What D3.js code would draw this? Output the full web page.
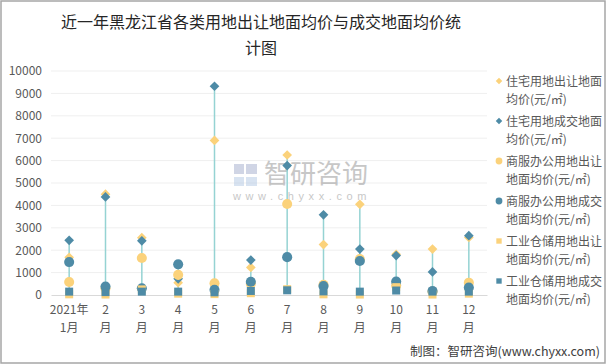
<!DOCTYPE html>
<html><head><meta charset="utf-8">
<script src="https://cdn.jsdelivr.net/npm/d3@7"></script>
<style>body{margin:0;background:#fff}svg{display:block}</style>
</head><body>
<svg id="c" width="606" height="364"></svg>
<script>
const months = ["2021年|1月","2|月","3|月","4|月","5|月","6|月","7|月","8|月","9|月","10|月","11|月","12|月"];
const resSell = [1680, 4500, 2560, 550, 6900, 1230, 6250, 2250, 4050, 1820, 2050, 2570];
const resDeal = [2440, 4380, 2420, 720, 9320, 1560, 5780, 3580, 2050, 1760, 1030, 2650];
const comSell = [580, 300, 1650, 900, 520, 500, 4060, 450, 1600, 420, 150, 550];
const comDeal = [1470, 380, 300, 1370, 230, 590, 1690, 400, 1520, 600, 180, 330];
const indSell = [30, 20, 250, 60, 40, 80, 260, 30, 20, 350, 20, 60];
const indDeal = [150, 130, 150, 150, 120, 180, 210, 160, 150, 200, 150, 150];
const yTicks = [0,1000,2000,3000,4000,5000,6000,7000,8000,9000,10000];
const seriesNames = ["住宅用地出让地面|均价(元/㎡)","住宅用地成交地面|均价(元/㎡)","商服办公用地出让|地面均价(元/㎡)","商服办公用地成交|地面均价(元/㎡)","工业仓储用地出让|地面均价(元/㎡)","工业仓储用地成交|地面均价(元/㎡)"];

const YEL = "#FBD27B", TEAL = "#4E8BA6";
const series = [
  {v: resSell, c: YEL, s: d3.symbolDiamond2, sz: 60},
  {v: resDeal, c: TEAL, s: d3.symbolDiamond2, sz: 60},
  {v: comSell, c: YEL, s: d3.symbolCircle, sz: 80},
  {v: comDeal, c: TEAL, s: d3.symbolCircle, sz: 80},
  {v: indSell, c: YEL, s: d3.symbolSquare, sz: 64},
  {v: indDeal, c: TEAL, s: d3.symbolSquare, sz: 64}
];

const svg = d3.select("#c");
const F = "'Noto Sans CJK SC', 'Noto Sans', sans-serif";
svg.append("rect").attr("x",1).attr("y",1).attr("width",604).attr("height",362)
  .attr("fill","#fff").attr("stroke","#a6a6a6").attr("stroke-width",1.5);

// title
const title = svg.append("text").attr("text-anchor","middle").attr("font-family",F)
  .attr("font-size",16).attr("fill","#262626");
title.append("tspan").attr("x",261).attr("y",28).text("近一年黑龙江省各类用地出让地面均价与成交地面均价统");
title.append("tspan").attr("x",261).attr("y",54).text("计图");

const x = d3.scaleBand().domain(months).range([51,487]).padding(0);
const y = d3.scaleLinear().domain([0,10000]).range([295,71]);
const cx = d => x(d) + x.bandwidth()/2;

// gridlines
svg.append("g").selectAll("line").data(yTicks.filter(t=>t>0)).join("line")
  .attr("x1",51).attr("x2",487).attr("y1",d=>y(d)).attr("y2",d=>y(d))
  .attr("stroke","#efefef").attr("stroke-width",1);

// y axis
const ya = svg.append("g").attr("transform","translate(51,0)")
  .call(d3.axisLeft(y).tickValues(yTicks).tickSize(0).tickPadding(9).tickFormat(d3.format("d")));
ya.select(".domain").remove();
ya.selectAll("text").attr("font-family",F).attr("font-size",12).attr("fill","#595959");

// x axis
const xa = svg.append("g").attr("transform","translate(0,295)")
  .call(d3.axisBottom(x).tickSize(0).tickFormat(""));
xa.select(".domain").attr("stroke","#d9d9d9").attr("stroke-width",1.2);
xa.selectAll(".tick").each(function(d){
  const parts = d.split("|");
  const t = d3.select(this).append("text").attr("fill","#595959").attr("font-family",F)
    .attr("font-size",12).attr("text-anchor","middle");
  t.append("tspan").attr("x",0).attr("y",19).text(parts[0]);
  t.append("tspan").attr("x",0).attr("y",37).text(parts[1]);
});

// watermark
const wm = svg.append("g").attr("opacity",0.55);
wm.append("rect").attr("x",234).attr("y",164).attr("width",10).attr("height",10).attr("fill","#aab4d0");
wm.append("rect").attr("x",246).attr("y",164).attr("width",11).attr("height",10).attr("fill","#aab4d0");
wm.append("rect").attr("x",234).attr("y",177).attr("width",10).attr("height",9).attr("fill","#b9cde6");
wm.append("rect").attr("x",246).attr("y",177).attr("width",11).attr("height",9).attr("fill","#b9cde6");
wm.append("text").attr("x",264).attr("y",183).attr("font-family",F).attr("font-size",26)
  .attr("fill","#9a9a9a").text("智研咨询");
wm.append("text").attr("x",233).attr("y",200).attr("font-family","'Liberation Sans', sans-serif").attr("font-size",11)
  .attr("letter-spacing",4.6).attr("fill","#9a9a9a").text("www.chyxx.com");

// high-low lines
svg.append("g").selectAll("line").data(months).join("line")
  .attr("x1",cx).attr("x2",cx)
  .attr("y1",(d,i)=>y(d3.min(series,s=>s.v[i])))
  .attr("y2",(d,i)=>y(d3.max(series,s=>s.v[i])))
  .attr("stroke","#95d3d3").attr("stroke-width",1.5);

// markers
series.forEach(s=>{
  svg.append("g").selectAll("path").data(months).join("path")
    .attr("transform",(d,i)=>`translate(${cx(d)},${y(s.v[i])})`)
    .attr("d",d3.symbol().type(s.s).size(s.sz)).attr("fill",s.c);
});

// legend
const lg = svg.append("g");
seriesNames.forEach((n,i)=>{
  const yy = 81 + i*40;
  const s = series[i];
  lg.append("path").attr("transform",`translate(499,${yy})`)
    .attr("d",d3.symbol().type(s.s).size(s.sz*0.45)).attr("fill",s.c);
  const parts = n.split("|");
  const t = lg.append("text").attr("font-family",F).attr("font-size",12).attr("fill","#595959");
  t.append("tspan").attr("x",506).attr("y",yy+4.5).text(parts[0]);
  t.append("tspan").attr("x",506).attr("y",yy+23).text(parts[1]);
});

// footer
svg.append("text").attr("x",600).attr("y",356).attr("text-anchor","end").attr("font-family",F)
  .attr("font-size",12.5).attr("fill","#404040").text("制图：智研咨询(www.chyxx.com)");
</script>
</body></html>
